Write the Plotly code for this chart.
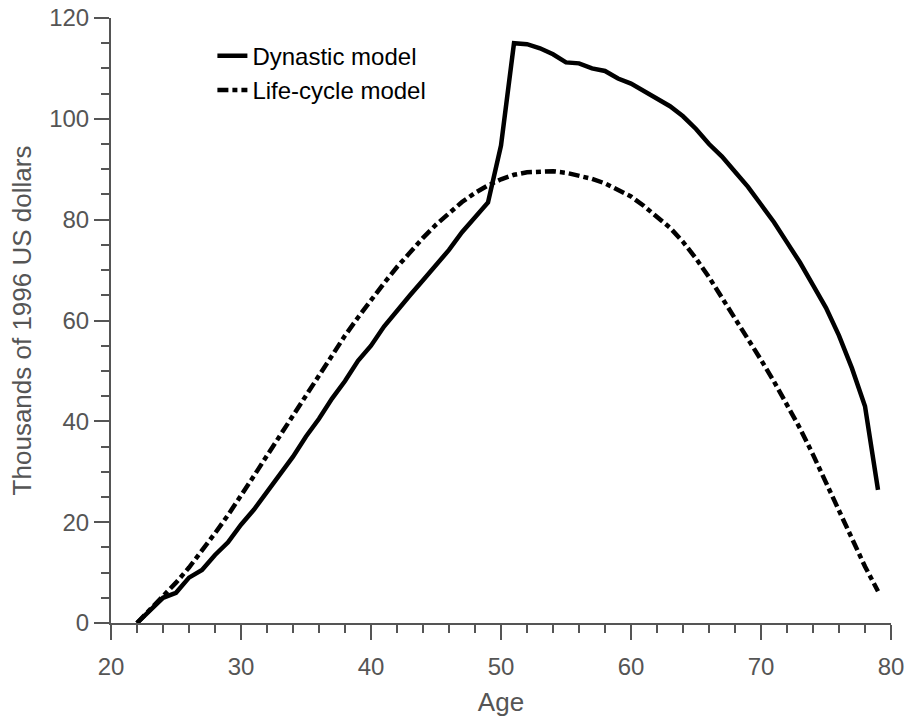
import plotly.graph_objects as go

ages = list(range(22, 80))

dynastic = [0, 2.5, 5, 6, 9, 10.5, 13.5, 16, 19.5, 22.5,
            26, 29.5, 33, 37, 40.5, 44.5, 48, 52, 55, 58.8,
            62, 65, 68, 71, 74, 77.5, 80.5, 83.4, 94.7, 115,
            114.8, 114, 112.8, 111.2, 111, 110, 109.5, 108, 107, 105.5,
            104, 102.5, 100.5, 98, 95, 92.5, 89.5, 86.5, 83, 79.5,
            75.5, 71.5, 67, 62.5, 57, 50.5, 43, 26.4]

lifecycle = [0, 2.6, 5.2, 8.0, 11.0, 14.3, 17.8, 21.4, 25.2, 29.2,
             33.2, 37.2, 41.3, 45.4, 49.4, 53.2, 57.0, 60.6, 64.1, 67.4,
             70.6, 73.6, 76.4, 79.0, 81.4, 83.5, 85.3, 86.8, 88.0, 88.9,
             89.4, 89.6, 89.6, 89.3, 88.8, 88.1, 87.2, 86.0, 84.6, 82.7,
             80.6, 78.4, 75.6, 72.3, 68.6, 64.6, 60.6, 56.4, 52.2, 47.9,
             43.4, 38.6, 33.4, 27.8, 22.2, 16.6, 11.2, 6.3]

names = ["Dynastic model", "Life-cycle model"]

axis_color = "#555555"
font_family = "Liberation Sans, Arial, sans-serif"

fig = go.Figure()
fig.add_trace(go.Scatter(x=ages, y=dynastic, mode="lines", name=names[0],
                         line=dict(color="black", width=4.5)))
fig.add_trace(go.Scatter(x=ages, y=lifecycle, mode="lines", name=names[1],
                         line=dict(color="black", width=4.5, dash="11px,4px,5px,4px")))

common = dict(showline=True, linecolor=axis_color, linewidth=2, ticks="outside",
              ticklen=15, tickwidth=2, tickcolor=axis_color, showgrid=False,
              zeroline=False, automargin=False,
              tickfont=dict(size=24, color=axis_color, family=font_family))

fig.update_xaxes(range=[20, 80], dtick=10, tick0=20,
                 minor=dict(dtick=2, tick0=20, ticks="outside", ticklen=8, tickwidth=2, tickcolor=axis_color),
                 ticklabelstandoff=6,
                 title=dict(text="Age", standoff=14,
                            font=dict(size=26, color=axis_color, family=font_family)),
                 **common)
fig.update_yaxes(range=[0, 120], dtick=20, tick0=0,
                 minor=dict(dtick=5, tick0=0, ticks="outside", ticklen=8, tickwidth=2, tickcolor=axis_color),
                 title=dict(text="Thousands of 1996 US dollars", standoff=10,
                            font=dict(size=26, color=axis_color, family=font_family)),
                 **common)

fig.update_layout(
    width=908, height=718,
    margin=dict(l=110.5, r=17, t=18, b=95),
    plot_bgcolor="white", paper_bgcolor="white",
    showlegend=True,
    legend=dict(x=0.13, y=0.974, xanchor="left", yanchor="top",
                bgcolor="rgba(0,0,0,0)", font=dict(size=24, color="black", family=font_family),
                tracegroupgap=0, itemwidth=30),
)

fig.write_html("out.html")
